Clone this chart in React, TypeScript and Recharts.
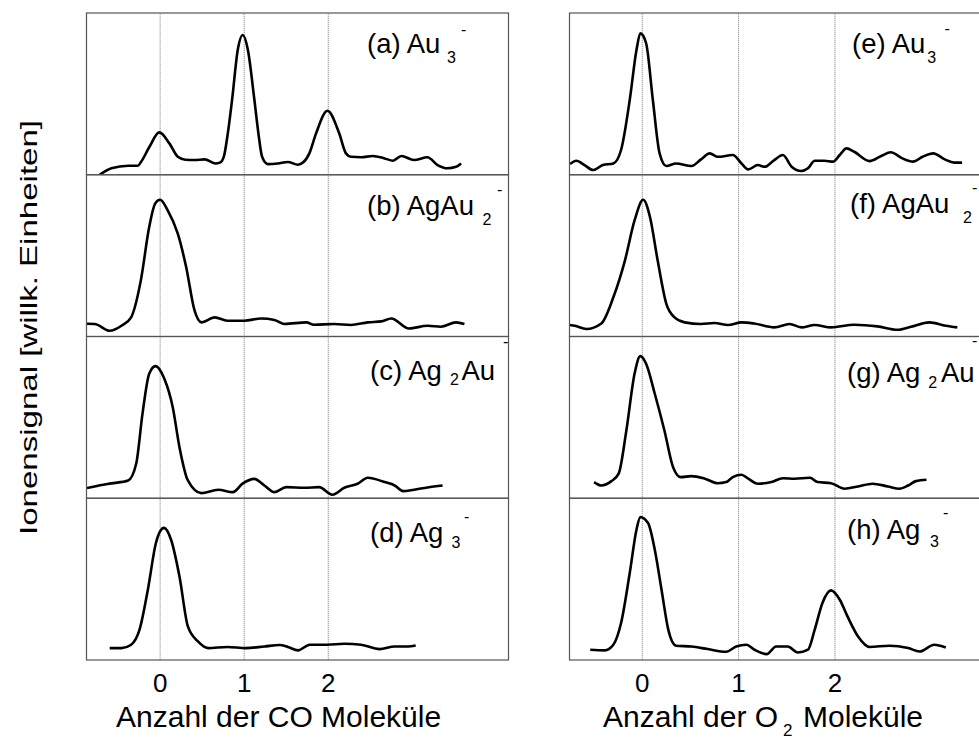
import React from 'react';
import { LineChart, Line, XAxis, YAxis, ReferenceLine } from 'recharts';

type Pair = [number, number];

// x = Anzahl der Moleküle, y = Ionensignal (willk. Einheiten, % der Panelhöhe)
const au3CO: Pair[] = [[-0.72,0],[-0.58,4.0],[-0.38,5.6],[-0.265,5.6],[-0.226,8.0],[-0.127,17.3],[-0.01,26.2],[0.11,19.4],[0.21,11.1],[0.30,9.3],[0.41,9.1],[0.53,9.5],[0.66,7.0],[0.71,7.5],[0.757,11.1],[0.805,25.6],[0.856,46.4],[0.924,77.4],[0.983,86.4],[1.043,77.4],[1.121,46.4],[1.169,25.6],[1.213,11.1],[1.28,6.6],[1.40,7.0],[1.52,7.9],[1.64,6.2],[1.70,7.5],[1.775,13.2],[1.855,25.6],[1.99,39.6],[2.13,25.6],[2.21,13.2],[2.27,11.1],[2.39,10.8],[2.53,11.6],[2.67,10.1],[2.77,8.7],[2.87,11.6],[3.02,9.1],[3.18,10.8],[3.30,6.0],[3.42,4.0],[3.52,4.9],[3.58,7.0]];
const agAu2CO: Pair[] = [[-0.87,8.0],[-0.78,7.9],[-0.60,3.7],[-0.46,6.8],[-0.345,12.0],[-0.23,34.7],[-0.13,67.8],[-0.06,82.3],[0.0,84.7],[0.09,78.1],[0.21,63.7],[0.31,43.0],[0.41,16.1],[0.49,8.9],[0.65,12.0],[0.80,9.9],[1.00,9.9],[1.20,11.3],[1.36,10.4],[1.48,7.9],[1.74,8.9],[1.83,7.4],[2.07,7.9],[2.27,7.3],[2.47,8.9],[2.63,9.5],[2.75,11.3],[2.96,5.1],[3.18,6.8],[3.34,6.2],[3.52,8.9],[3.62,7.9]];
const ag2AuCO: Pair[] = [[-0.87,6.6],[-0.78,7.6],[-0.58,9.5],[-0.38,11.3],[-0.285,21.6],[-0.21,52.5],[-0.13,77.3],[-0.055,82.0],[0.05,74.2],[0.15,56.6],[0.23,31.9],[0.33,11.3],[0.49,3.5],[0.69,5.6],[0.865,4.1],[0.98,9.3],[1.12,12.3],[1.24,8.2],[1.36,4.1],[1.50,7.2],[1.72,6.8],[1.89,7.2],[2.05,2.5],[2.19,6.8],[2.35,9.3],[2.47,13.0],[2.67,10.3],[2.79,8.2],[2.89,4.7],[3.02,5.6],[3.18,7.0],[3.36,8.2]];
const ag3CO: Pair[] = [[-0.60,7.2],[-0.46,7.2],[-0.345,9.3],[-0.245,18.6],[-0.146,43.3],[-0.05,72.2],[0.045,81.5],[0.13,74.2],[0.23,51.5],[0.33,20.6],[0.45,11.3],[0.57,7.2],[0.80,7.9],[1.02,7.2],[1.24,8.2],[1.42,9.1],[1.52,7.9],[1.64,5.8],[1.78,9.3],[1.99,9.3],[2.19,9.9],[2.39,9.3],[2.61,6.6],[2.79,8.2],[2.95,8.2],[3.04,8.8]];
const au3O2: Pair[] = [[-0.75,6.6],[-0.685,8.7],[-0.60,6.0],[-0.51,2.9],[-0.41,6.0],[-0.30,7.0],[-0.22,15.3],[-0.13,46.2],[-0.06,77.1],[-0.02,87.4],[0.04,81.3],[0.11,46.2],[0.18,13.2],[0.25,5.4],[0.35,7.0],[0.51,5.4],[0.61,9.5],[0.70,13.2],[0.785,11.1],[0.94,12.2],[1.03,7.0],[1.10,3.3],[1.20,6.0],[1.27,4.9],[1.37,9.1],[1.46,12.2],[1.55,4.9],[1.65,2.3],[1.72,4.0],[1.79,8.7],[1.89,8.7],[1.98,8.1],[2.05,12.2],[2.12,16.3],[2.20,14.2],[2.36,8.4],[2.48,11.6],[2.58,13.9],[2.70,10.1],[2.81,8.1],[2.91,11.1],[3.02,13.2],[3.14,9.5],[3.24,7.5],[3.32,7.5]];
const agAu2O2: Pair[] = [[-0.75,7.3],[-0.70,6.8],[-0.58,4.8],[-0.425,8.2],[-0.30,24.4],[-0.18,47.1],[-0.08,71.9],[0.01,84.7],[0.08,74.0],[0.16,47.1],[0.25,20.3],[0.335,12.0],[0.44,8.9],[0.61,7.9],[0.75,8.5],[0.89,7.3],[1.03,8.9],[1.16,8.2],[1.37,5.8],[1.53,7.9],[1.65,5.8],[1.79,7.3],[1.96,5.8],[2.20,7.4],[2.44,6.4],[2.65,4.3],[2.79,6.2],[2.98,8.9],[3.15,6.8],[3.27,5.8]];
const ag2AuO2: Pair[] = [[-0.50,10.3],[-0.425,8.2],[-0.32,10.9],[-0.245,15.5],[-0.165,42.2],[-0.08,77.3],[-0.02,88.2],[0.04,83.5],[0.13,64.9],[0.23,42.2],[0.32,19.5],[0.40,13.4],[0.51,14.0],[0.65,12.4],[0.785,9.6],[0.87,10.3],[0.94,13.4],[1.03,14.8],[1.10,12.4],[1.20,9.3],[1.34,10.3],[1.46,12.7],[1.58,12.4],[1.74,13.0],[1.82,10.3],[1.96,9.6],[2.10,6.2],[2.24,7.6],[2.39,9.3],[2.55,7.6],[2.67,6.2],[2.76,8.2],[2.84,10.9],[2.95,11.7]];
const ag3O2: Pair[] = [[-0.54,6.2],[-0.39,5.8],[-0.30,9.3],[-0.22,22.7],[-0.13,53.6],[-0.06,80.4],[-0.02,88.2],[0.06,84.5],[0.13,68.0],[0.20,43.3],[0.27,18.6],[0.35,8.7],[0.51,8.2],[0.68,6.6],[0.87,4.9],[0.975,8.2],[1.08,9.3],[1.165,6.2],[1.29,3.5],[1.39,8.2],[1.51,8.2],[1.615,4.5],[1.72,6.2],[1.79,18.6],[1.87,35.1],[1.96,42.9],[2.05,37.1],[2.13,26.8],[2.24,14.4],[2.36,7.9],[2.565,8.7],[2.76,7.2],[2.88,5.1],[3.03,9.3],[3.15,7.6]];

const xTicks = [0, 1, 2];
const gridLines = [0, 1, 2];
const leftTitle = 'Anzahl der CO Moleküle';
const yTitle = 'Ionensignal [willk. Einheiten]';

const FONT = '"Liberation Sans", Arial, Helvetica, sans-serif';
const LEFT_X = 86.5;
const RIGHT_X = 569.5;
const PANEL_W = 422;
const TOP = 13;
const ROW_H = 161.75;
const LEFT_DOMAIN: [number, number] = [-0.87, 4.15];
const RIGHT_DOMAIN: [number, number] = [-0.75, 3.63];
const AXIS_H = 40;
const LABEL_FS = 27.5;

const toRows = (p: Pair[]) => p.map(([n, s]) => ({ n, s }));

type PanelProps = { data: Pair[]; domain: [number, number]; left: number; row: number };

function Panel({ data, domain, left, row }: PanelProps) {
  const bottom = row === 3;
  const h = ROW_H + (bottom ? AXIS_H : 0);
  return (
    <div style={{ position: 'absolute', left, top: TOP + row * ROW_H }}>
      <LineChart width={PANEL_W} height={h} data={toRows(data)} margin={{ top: 0, right: 0, bottom: 0, left: 0 }}>
        <XAxis
          type="number"
          dataKey="n"
          domain={domain}
          hide={!bottom}
          ticks={xTicks}
          interval={0}
          axisLine={false}
          tickLine={false}
          tickSize={0}
          tickMargin={14}
          height={AXIS_H}
          tick={{ fontSize: 26, fill: '#000', fontFamily: FONT }}
        />
        <YAxis type="number" domain={[0, 100]} hide />
        {gridLines.map((g) => (
          <ReferenceLine key={g} x={g} stroke="#777" strokeWidth={1} strokeDasharray="1 1" />
        ))}
        <Line type="monotone" dataKey="s" stroke="#000" strokeWidth={2.6} dot={false} isAnimationActive={false} />
      </LineChart>
    </div>
  );
}

type LabelDef = {
  main: string; mx: number; my: number;
  sub: string; sx: number; sy: number;
  tail?: string; tx?: number;
  sup: number[];
};

const labels: LabelDef[] = [
  { main: '(a) Au', mx: 367, my: 52.5, sub: '3', sx: 447, sy: 62.7, sup: [461, 35] },
  { main: '(b) AgAu', mx: 367, my: 215, sub: '2', sx: 482.5, sy: 225, sup: [497, 195] },
  { main: '(c) Ag', mx: 370, my: 380, sub: '2', sx: 450, sy: 385, tail: 'Au', tx: 461.5, sup: [503, 347] },
  { main: '(d) Ag', mx: 370, my: 541.7, sub: '3', sx: 451.5, sy: 548.3, sup: [464, 521.5] },
  { main: '(e) Au', mx: 852, my: 53.3, sub: '3', sx: 927.3, sy: 62.7, sup: [944.5, 34.3] },
  { main: '(f) AgAu', mx: 850, my: 213.3, sub: '2', sx: 963, sy: 223.3, sup: [972, 193] },
  { main: '(g) Ag', mx: 847, my: 381.7, sub: '2', sx: 928.3, sy: 388.3, tail: 'Au', tx: 941, sup: [972, 346] },
  { main: '(h) Ag', mx: 847, my: 539.3, sub: '3', sx: 930, sy: 546.7, sup: [943, 518] },
];

export default function App() {
  const panels: PanelProps[] = [
    { data: au3CO, domain: LEFT_DOMAIN, left: LEFT_X, row: 0 },
    { data: agAu2CO, domain: LEFT_DOMAIN, left: LEFT_X, row: 1 },
    { data: ag2AuCO, domain: LEFT_DOMAIN, left: LEFT_X, row: 2 },
    { data: ag3CO, domain: LEFT_DOMAIN, left: LEFT_X, row: 3 },
    { data: au3O2, domain: RIGHT_DOMAIN, left: RIGHT_X, row: 0 },
    { data: agAu2O2, domain: RIGHT_DOMAIN, left: RIGHT_X, row: 1 },
    { data: ag2AuO2, domain: RIGHT_DOMAIN, left: RIGHT_X, row: 2 },
    { data: ag3O2, domain: RIGHT_DOMAIN, left: RIGHT_X, row: 3 },
  ];
  return (
    <div style={{ position: 'absolute', left: 0, top: 0, width: 979, height: 740, overflow: 'hidden', background: '#fff', fontFamily: FONT }}>
      {panels.map((p, i) => (
        <Panel key={i} {...p} />
      ))}
      <svg width={979} height={740} style={{ position: 'absolute', left: 0, top: 0, pointerEvents: 'none' }}>
        {[LEFT_X, RIGHT_X].map((x) =>
          [0, 1, 2, 3].map((r) => (
            <rect key={`${x}-${r}`} x={x} y={TOP + r * ROW_H} width={PANEL_W} height={ROW_H} fill="none" stroke="#555" strokeWidth={1.2} />
          ))
        )}
        {labels.map((l, i) => (
          <g key={i} fontFamily={FONT} fill="#000">
            <text x={l.mx} y={l.my} fontSize={LABEL_FS}>{l.main}</text>
            <text x={l.sx} y={l.sy} fontSize={16}>{l.sub}</text>
            {l.tail && <text x={l.tx} y={l.my} fontSize={LABEL_FS}>{l.tail}</text>}
            <text x={l.sup[0]} y={l.sup[1]} fontSize={16}>-</text>
          </g>
        ))}
        <text x={116} y={727} fontSize={30} fontFamily={FONT} fill="#000">{leftTitle}</text>
        <text y={727} fontSize={30} fontFamily={FONT} fill="#000">
          <tspan x={603}>Anzahl der O</tspan>
          <tspan x={783} y={735.5} fontSize={17}>2</tspan>
          <tspan x={803} y={727}>Moleküle</tspan>
        </text>
        <text
          transform="translate(36.7,327.5) rotate(-90)"
          textAnchor="middle"
          fontSize={24}
          fontFamily={FONT}
          fill="#000"
          textLength={415}
          lengthAdjust="spacingAndGlyphs"
        >
          {yTitle}
        </text>
      </svg>
    </div>
  );
}
